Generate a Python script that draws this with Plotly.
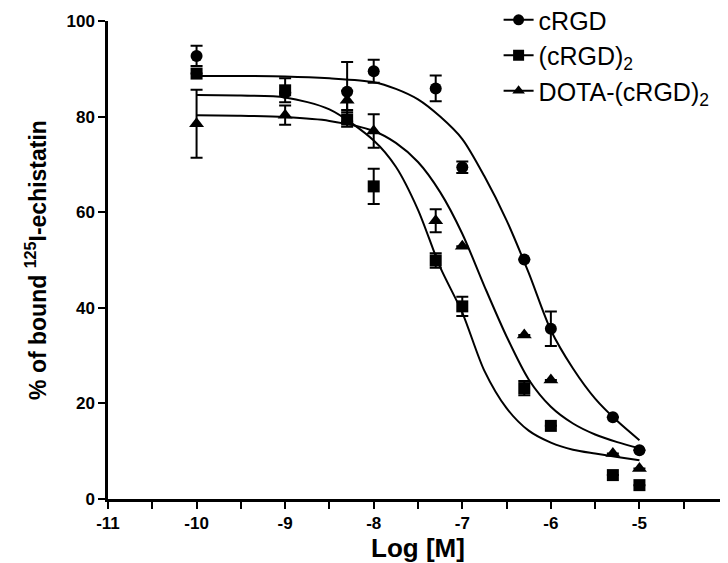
import plotly.graph_objects as go

# ---------------- data ----------------
log_conc = [-10, -9, -8.3, -8, -7.3, -7, -6.3, -6, -5.3, -5]

crgd_mean = [92.7, 85.0, 85.2, 89.5, 85.9, 69.4, 50.1, 35.6, 17.1, 10.2]
crgd_err = [2.1, None, 6.2, 2.4, 2.7, 1.2, None, 3.6, None, None]

crgd2_mean = [89.0, 85.5, 79.4, 65.4, 49.9, 40.3, 23.2, 15.3, 5.0, 2.9]
crgd2_err = [None, 2.5, 1.5, 3.7, 1.5, 2.0, 1.5, None, None, None]

dota_mean = [78.5, 80.3, 83.4, 77.0, 58.2, 52.9, 34.3, 24.9, 9.5, 6.4]
dota_err = [7.1, 2.0, 2.0, 3.5, 2.4, None, None, None, None, None]

# fitted curves
fit_x = [-10, -9.5, -9, -8.5, -8, -7.75, -7.5, -7.25, -7, -6.75, -6.5,
         -6.25, -6, -5.75, -5.5, -5.25, -5]
crgd_fit = [88.5, 88.5, 88.4, 88.0, 87.2, 85.8, 83.6, 80.0, 75.3, 67.5, 58.3,
            47.3, 35.3, 27.3, 21.0, 16.3, 12.3]
crgd2_fit = [84.5, 84.4, 84.0, 81.5, 75.0, 69.5, 60.5, 48.5, 39.0, 26.8, 19.0,
             14.3, 11.8, 10.3, 9.5, 8.8, 8.1]
dota_fit = [80.3, 80.2, 79.9, 79.1, 77.0, 74.5, 70.5, 64.2, 55.5, 44.5, 34.0,
            25.0, 19.3, 15.8, 13.5, 11.9, 10.6]

series_names = ["cRGD", "(cRGD)<sub>2</sub>", "DOTA-(cRGD)<sub>2</sub>"]
series_symbols = ["circle", "square", "triangle-up"]

x_tickvals = [-11, -10, -9, -8, -7, -6, -5, -4]
x_ticktext = ["-11", "-10", "-9", "-8", "-7", "-6", "-5", "-4"]
y_tickvals = [0, 20, 40, 60, 80, 100]
y_ticktext = ["0", "20", "40", "60", "80", "100"]

# ---------------- figure ----------------
FONT = "Liberation Sans, Arial, sans-serif"
fig = go.Figure()

means = [crgd_mean, crgd2_mean, dota_mean]
errs = [crgd_err, crgd2_err, dota_err]
fits = [crgd_fit, crgd2_fit, dota_fit]

for name, sym, m, e, f in zip(series_names, series_symbols, means, errs, fits):
    fig.add_trace(go.Scatter(
        x=fit_x, y=f, mode="lines", line=dict(color="black", width=2, shape="spline", smoothing=0.8),
        showlegend=False, hoverinfo="skip"))
    fig.add_trace(go.Scatter(
        x=log_conc, y=m, mode="markers",
        marker=dict(symbol=sym, size=12 if sym != "triangle-up" else 13, color="black"),
        error_y=dict(type="data", array=e, visible=True, color="black", thickness=2, width=6),
        showlegend=False))

# legend entries
for name, sym in zip(series_names, series_symbols):
    fig.add_trace(go.Scatter(
        x=[None], y=[None], mode="lines+markers", name=name,
        line=dict(color="black", width=2),
        marker=dict(symbol=sym, size=11, color="black")))

fig.update_layout(
    width=728, height=563,
    margin=dict(l=100, r=8, t=13, b=72, autoexpand=False),
    paper_bgcolor="white", plot_bgcolor="white",
    font=dict(family=FONT, color="black"),
    legend=dict(x=0.63, y=1.05, xanchor="left", yanchor="top",
                font=dict(family=FONT, size=25, color="black"),
                bgcolor="rgba(0,0,0,0)", itemwidth=30, tracegroupgap=0),
    showlegend=True,
)

fig.update_xaxes(
    range=[-11, -4], showgrid=False, zeroline=False, automargin=False,
    showline=True, linecolor="black", linewidth=2.5,
    tickmode="array", tickvals=x_tickvals, ticktext=x_ticktext,
    ticks="outside", ticklen=7, tickwidth=2, tickcolor="black",
    ticklabeloverflow="allow",
    tickfont=dict(family=FONT, size=17, color="black", weight="bold"),
    minor=dict(dtick=0.5, tick0=-11, ticks="outside", ticklen=7, tickwidth=2, tickcolor="black"),
    title=dict(text="Log [M]", font=dict(family=FONT, size=26, color="black", weight="bold"), standoff=6),
)
fig.update_yaxes(
    range=[0, 100], showgrid=False, zeroline=False, automargin=False,
    showline=True, linecolor="black", linewidth=2.5,
    tickmode="array", tickvals=y_tickvals, ticktext=y_ticktext,
    ticks="outside", ticklen=7, tickwidth=2, tickcolor="black",
    tickfont=dict(family=FONT, size=17, color="black", weight="bold"),
    title=dict(text="% of bound <sup>125</sup>I-echistatin",
               font=dict(family=FONT, size=23, color="black", weight="bold"), standoff=14),
)

fig.write_html("out.html")
